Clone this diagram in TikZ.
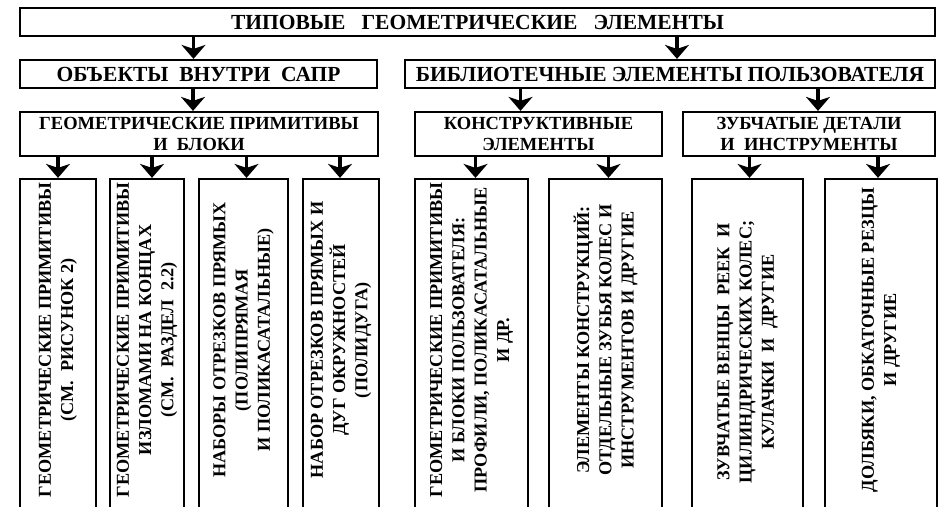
\documentclass[tikz,border=0pt]{standalone}
\usepackage{fontspec}
\setmainfont{Liberation Serif}
\usetikzlibrary{arrows.meta}

\tikzset{
  box/.style={draw, line width=2.2pt, rectangle, inner sep=0pt, align=center,
    font=\bfseries\fontsize{18.5}{21}\selectfont},
  bigbox/.style={box, font=\bfseries\fontsize{21.5}{24}\selectfont},
  leaf/.style={draw, line width=2.2pt, rectangle, inner sep=0pt, minimum height=329pt},
  vtext/.style={rotate=90, align=center, inner sep=0pt,
    font=\bfseries\fontsize{18.2}{22.3}\selectfont},
  arr/.style={line width=3.5pt, -{Stealth[width=24pt,length=14pt,inset=4pt]}},
}

\begin{document}
\begin{tikzpicture}[x=1pt,y=1pt,yscale=-1]
\useasboundingbox (0,0) rectangle (939,506);
\clip (0,0) rectangle (939,506);
% Upper boxes
\node[bigbox, minimum width=915pt, minimum height=28pt] (tip) at (477.5,22) {ТИПОВЫЕ\ \ \ ГЕОМЕТРИЧЕСКИЕ\ \ \ ЭЛЕМЕНТЫ};
\node[bigbox, minimum width=357pt, minimum height=28pt] (obj) at (198.5,74) {ОБЪЕКТЫ\ \ ВНУТРИ\ \ САПР};
\node[bigbox, minimum width=530pt, minimum height=28pt] (bib) at (670,74) {БИБЛИОТЕЧНЫЕ ЭЛЕМЕНТЫ ПОЛЬЗОВАТЕЛЯ};
\node[box, minimum width=358pt, minimum height=44pt] (geo) at (199,134) {ГЕОМЕТРИЧЕСКИЕ ПРИМИТИВЫ\\И\ \ БЛОКИ};
\node[box, minimum width=247pt, minimum height=44pt] (kon) at (538.5,134) {КОНСТРУКТИВНЫЕ\\ЭЛЕМЕНТЫ};
\node[box, minimum width=252pt, minimum height=44pt] (zub) at (809,134) {ЗУБЧАТЫЕ ДЕТАЛИ\\И\ \ ИНСТРУМЕНТЫ};
% Leaf boxes
\node[leaf, minimum width=76pt] (la) at (58,343.5) {};
\node[leaf, minimum width=74pt] (lb) at (147,343.5) {};
\node[leaf, minimum width=89pt] (lc) at (243.5,343.5) {};
\node[leaf, minimum width=76pt] (ld) at (341,343.5) {};
\node[leaf, minimum width=113pt] (le) at (471.5,343.5) {};
\node[leaf, minimum width=113pt] (lf) at (605.5,343.5) {};
\node[leaf, minimum width=111pt] (lg) at (747.5,343.5) {};
\node[leaf, minimum width=112pt] (lh) at (881,343.5) {};
% Text Node
\node[vtext] (ta) at (la |- 0,340) {ГЕОМЕТРИЧЕСКИЕ ПРИМИТИВЫ\\(СМ.\ \ РИСУНОК 2)};
\node[vtext] (tb) at (lb |- 0,340) {ГЕОМЕТРИЧЕСКИЕ ПРИМИТИВЫ\\ИЗЛОМАМИ НА КОНЦАХ\\(СМ.\ \ РАЗДЕЛ\ \ 2.2)};
\node[vtext] (tc) at (lc |- 0,340) {НАБОРЫ ОТРЕЗКОВ ПРЯМЫХ\\(ПОЛИПРЯМАЯ\\И ПОЛИКАСАТАЛЬНЫЕ)};
\node[vtext] (td) at (ld |- 0,340) {НАБОР ОТРЕЗКОВ ПРЯМЫХ И\\ДУГ ОКРУЖНОСТЕЙ\\(ПОЛИДУГА)};
\node[vtext] (te) at (le |- 0,340) {ГЕОМЕТРИЧЕСКИЕ ПРИМИТИВЫ\\И БЛОКИ ПОЛЬЗОВАТЕЛЯ:\\ПРОФИЛИ, ПОЛИКАСАТАЛЬНЫЕ\\И ДР.};
\node[vtext] (tf) at (lf |- 0,340) {ЭЛЕМЕНТЫ КОНСТРУКЦИЙ:\\ОТДЕЛЬНЫЕ ЗУБЬЯ КОЛЕС И\\ИНСТРУМЕНТОВ И ДРУГИЕ};
\node[vtext] (tg) at (lg |- 0,352) {ЗУВЧАТЫЕ ВЕНЦЫ\ \ РЕЕК\ \ И\\ЦИЛИНДРИЧЕСКИХ КОЛЕС;\\КУЛАЧКИ\ \ И\ \ ДРУГИЕ};
\node[vtext] (th) at (lh |- 0,340) {ДОЛБЯКИ, ОБКАТОЧНЫЕ РЕЗЦЫ\\И ДРУГИЕ};
% Arrows
\foreach \p/\c/\s in {tip/obj/-5, tip/bib/7, obj/geo/-6, bib/kon/-18, bib/zub/9,
    geo/la/0, geo/lb/5, geo/lc/3, geo/ld/-1, kon/le/4, kon/lf/3, zub/lg/2, zub/lh/-3}
  {\coordinate (t) at ([xshift=\s pt]\c.north);
   \draw[arr] (t |- \p.south) -- (t);}
\end{tikzpicture}
\end{document}
